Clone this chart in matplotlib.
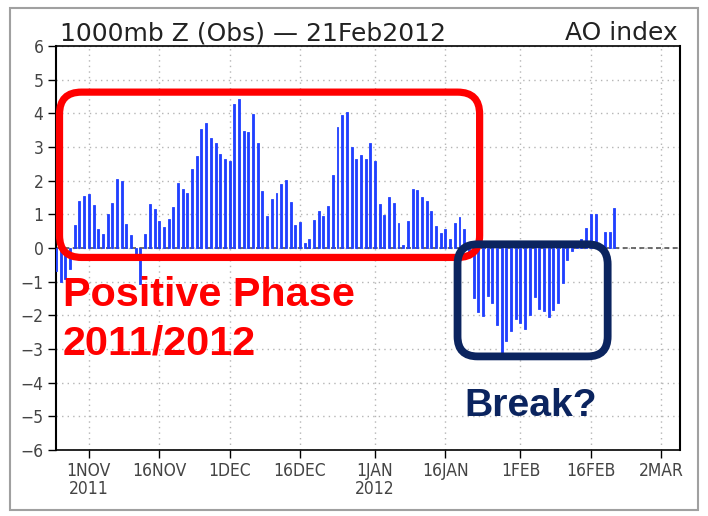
import numpy as np
import pandas as pd
import matplotlib
matplotlib.use("Agg")
import matplotlib.pyplot as plt
import matplotlib.dates as mdates
from matplotlib import font_manager
from matplotlib.patches import FancyBboxPatch, Rectangle

# daily AO index, 25 Oct 2011 .. 21 Feb 2012
start_date = "2011-10-25"
ao_index = [
    -0.68, -1.00, -0.93, -0.62,                                          # Oct 25-28
    0.68, 1.41, 1.54,                                                    # Oct 29-31
    1.59, 1.27, 0.57, 0.41, 1.00, 1.35, 2.06, 2.00, 0.71, 0.40,          # Nov 1-10
    -0.24, -1.08, 0.41, 1.31, 1.16, 0.81, 0.62, 0.87, 1.21, 1.92,        # Nov 11-20
    1.76, 1.63, 2.34, 2.73, 3.52, 3.72, 3.26, 3.12, 2.80, 2.63,          # Nov 21-30
    2.58, 4.28, 4.43, 3.49, 3.46, 3.99, 3.12, 1.68, 0.95, 1.47,          # Dec 1-10
    1.63, 1.89, 2.02, 1.38, 0.68, 0.77, 0.14, 0.27, 0.84, 1.10,          # Dec 11-20
    0.95, 1.24, 2.18, 3.60, 3.94, 4.04, 3.01, 2.65, 2.76, 2.65, 3.11,    # Dec 21-31
    2.58, 1.31, 0.98, 1.52, 1.34, 0.75, 0.09, 0.79, 1.76, 1.73,          # Jan 1-10
    1.51, 1.39, 1.11, 0.65, 0.45, 0.55, 0.26, 0.74, 0.92, 0.55,          # Jan 11-20
    -0.20, -1.49, -1.89, -2.02, -1.42, -1.62, -2.28, -3.15, -2.76, -2.46, -2.12,  # Jan 21-31
    -2.22, -2.41, -1.99, -1.47, -1.82, -1.87, -2.05, -1.85, -1.62, -1.03,  # Feb 1-10
    -0.37, -0.08, 0.06, 0.26, 0.60, 1.01, 1.01, 0.04, 0.48, 0.48, 1.18,  # Feb 11-21
]

tick_dates = ["2011-11-01", "2011-11-16", "2011-12-01", "2011-12-16", "2012-01-01",
              "2012-01-16", "2012-02-01", "2012-02-16", "2012-03-02"]
tick_labels = ["1NOV\n2011", "16NOV", "1DEC", "16DEC", "1JAN\n2012",
               "16JAN", "1FEB", "16FEB", "2MAR"]
y_ticks = list(range(-6, 7))

# annotation boxes (date range, value range)
pos_box = ("2011-10-25 18:00", "2012-01-23 07:00", -0.28, 4.63)
neg_box = ("2012-01-18 14:00", "2012-02-19 14:00", -3.22, 0.11)

installed = {f.name for f in font_manager.fontManager.ttflist}
if "Liberation Sans Narrow" in installed:
    tick_font = dict(family="Liberation Sans Narrow", fontsize=14)
else:
    tick_font = dict(family="DejaVu Sans", fontstretch="condensed", fontsize=12.5)
bold_font = "Liberation Sans" if "Liberation Sans" in installed else "DejaVu Sans"

dates = pd.date_range(start_date, periods=len(ao_index), freq="D")

fig = plt.figure(figsize=(7.08, 5.16), dpi=100)
ax = fig.add_axes([56 / 708, 66 / 516, 624 / 708, 404 / 516])

ax.bar(dates, ao_index, width=0.42, color="#2040ff", edgecolor="#2040ff",
       linewidth=0.6, zorder=3)

ax.set_xlim(pd.Timestamp("2011-10-25"), pd.Timestamp("2012-03-06"))
ax.set_ylim(-6, 6)

ax.set_xticks(pd.to_datetime(tick_dates))
ax.set_xticklabels(tick_labels, color="#444", linespacing=1.0, **tick_font)
ax.set_yticks(y_ticks)
ax.set_yticklabels([f"{v}".replace("-", "\u2212") for v in y_ticks],
                   color="#444", **tick_font)
ax.tick_params(direction="out", length=6, width=1.0, color="black", pad=3)

ax.grid(True, color="#b5b5b5", linestyle=(0, (1, 3)), linewidth=1.0, zorder=0)
ax.set_axisbelow(True)
ax.axhline(0, color="#555555", linestyle=(0, (3, 2)), linewidth=1.2, zorder=2)

for side in ["left", "right"]:
    ax.spines[side].set_linewidth(1.5)
for side in ["top", "bottom"]:
    ax.spines[side].set_linewidth(1.2)
    ax.spines[side].set_linestyle((0, (3, 1)))

# rounded boxes drawn in data space, corners kept circular on screen
fig.canvas.draw()
px0 = ax.transData.transform((0, 0))
px1 = ax.transData.transform((1, 1))
aspect = (px1[0] - px0[0]) / (px1[1] - px0[1])


def rounded_box(box, radius_px, color, lw):
    x0 = mdates.date2num(pd.Timestamp(box[0]))
    x1 = mdates.date2num(pd.Timestamp(box[1]))
    radius = radius_px / (px1[0] - px0[0])
    patch = FancyBboxPatch((x0, box[2]), x1 - x0, box[3] - box[2],
                           boxstyle=f"round,pad=0,rounding_size={radius}",
                           mutation_aspect=aspect, fill=False,
                           edgecolor=color, linewidth=lw, zorder=5, clip_on=False)
    ax.add_patch(patch)


rounded_box(pos_box, 22, "#ff0000", 5.2)
rounded_box(neg_box, 20, "#0b245f", 5.6)

ax.text(pd.Timestamp("2011-10-26 10:00"), -1.72, "Positive Phase", color="#ff0000",
        fontsize=29.8, fontweight="bold", family=bold_font, va="baseline", zorder=6)
ax.text(pd.Timestamp("2011-10-26 10:00"), -3.15, "2011/2012", color="#ff0000",
        fontsize=29.8, fontweight="bold", family=bold_font, va="baseline", zorder=6)
ax.text(pd.Timestamp("2012-01-20 00:00"), -4.98, "Break?", color="#0b245f",
        fontsize=28.2, fontweight="bold", family=bold_font, va="baseline", zorder=6)

fig.text(60 / 708, 1 - 40 / 516, "1000mb Z (Obs) \u2014 21Feb2012", fontsize=18,
         color="#222222", va="baseline", ha="left")
fig.text(678 / 708, 1 - 40 / 516, "AO index", fontsize=18,
         color="#222222", va="baseline", ha="right")

fig.patches.append(Rectangle((10 / 708, 6 / 516), 688 / 708, 502 / 516, fill=False,
                             edgecolor="#a0a0a0", linewidth=1.5,
                             transform=fig.transFigure))

fig.savefig("out.png", dpi=100)
plt.close(fig)
